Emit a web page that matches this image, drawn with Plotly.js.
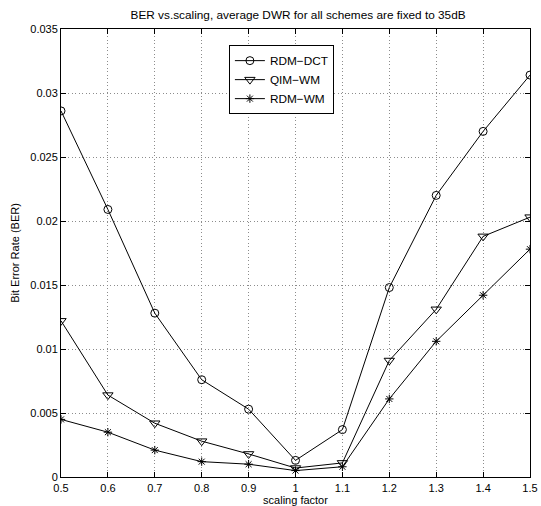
<!DOCTYPE html>
<html>
<head>
<meta charset="utf-8">
<script src="https://cdn.plot.ly/plotly-3.0.1.min.js"></script>
<style>html,body{margin:0;padding:0;background:#fff;}#chart{width:541px;height:506px;}</style>
</head>
<body>
<div id="chart"></div>
<script>
const scaling = [0.5, 0.6, 0.7, 0.8, 0.9, 1.0, 1.1, 1.2, 1.3, 1.4, 1.5];
const rdmDct = [0.0286, 0.0209, 0.0128, 0.0076, 0.0053, 0.0013, 0.0037, 0.0148, 0.0220, 0.0270, 0.0314];
const qimWm  = [0.0122, 0.0064, 0.0042, 0.0028, 0.0018, 0.0007, 0.0011, 0.0091, 0.0131, 0.0188, 0.0203];
const rdmWm  = [0.0045, 0.0035, 0.0021, 0.0012, 0.0010, 0.0005, 0.0008, 0.0061, 0.0106, 0.0142, 0.0178];
const xTicks = [0.5, 0.6, 0.7, 0.8, 0.9, 1, 1.1, 1.2, 1.3, 1.4, 1.5];
const xTickText = ['0.5','0.6','0.7','0.8','0.9','1','1.1','1.2','1.3','1.4','1.5'];
const yTicks = [0, 0.005, 0.01, 0.015, 0.02, 0.025, 0.03, 0.035];
const yTickText = ['0','0.005','0.01','0.015','0.02','0.025','0.03','0.035'];

const fam = '"Liberation Sans", Arial, Helvetica, sans-serif';
const font = {family: fam, size: 11, color: '#000'};

function tr(name, y, symbol, size) {
  return {
    x: scaling, y: y, name: name, type: 'scatter', mode: 'lines+markers',
    line: {color: '#000', width: 1},
    marker: {symbol: symbol, size: size, color: '#000', line: {color: '#000', width: 1}}
  };
}

const data = [
  tr('RDM\u2212DCT', rdmDct, 'circle-open', 8),
  tr('QIM\u2212WM', qimWm, 'triangle-down-open', 9),
  tr('RDM\u2212WM', rdmWm, 'asterisk-open', 7)
];

const axisCommon = {
  showline: true, linecolor: '#000', linewidth: 1, mirror: 'ticks',
  ticks: 'inside', ticklen: 5, tickcolor: '#000', tickwidth: 1,
  showgrid: true, gridcolor: '#8c8c8c', griddash: '1px,2.5px', gridwidth: 1,
  zeroline: false, tickfont: font
};

const layout = {
  width: 541, height: 506,
  margin: {l: 61, r: 11, t: 29, b: 28.5},
  paper_bgcolor: '#fff', plot_bgcolor: '#fff',
  font: font,
  title: {text: 'BER vs.scaling, average DWR for all schemes are fixed to 35dB',
          font: {family: fam, size: 11.8, color: '#000'},
          x: 0.551, xanchor: 'center', y: 0.97, yanchor: 'middle'},
  xaxis: Object.assign({}, axisCommon, {
    range: [0.5, 1.5], tickvals: xTicks, ticktext: xTickText,
    ticklabelstandoff: 1,
    title: {text: 'scaling factor', font: font, standoff: 2}
  }),
  yaxis: Object.assign({}, axisCommon, {
    range: [0, 0.035], tickvals: yTicks, ticktext: yTickText,
    title: {text: 'Bit Error Rate (BER)', font: font, standoff: 8}
  }),
  showlegend: true,
  legend: {
    x: 0.358, y: 0.964, xanchor: 'left', yanchor: 'top',
    bgcolor: '#fff', bordercolor: '#000', borderwidth: 1,
    font: {family: fam, size: 11.8, color: '#000'}, tracegroupgap: 0, itemwidth: 30
  }
};

Plotly.newPlot('chart', data, layout, {displayModeBar: false, staticPlot: true});
</script>
</body>
</html>
